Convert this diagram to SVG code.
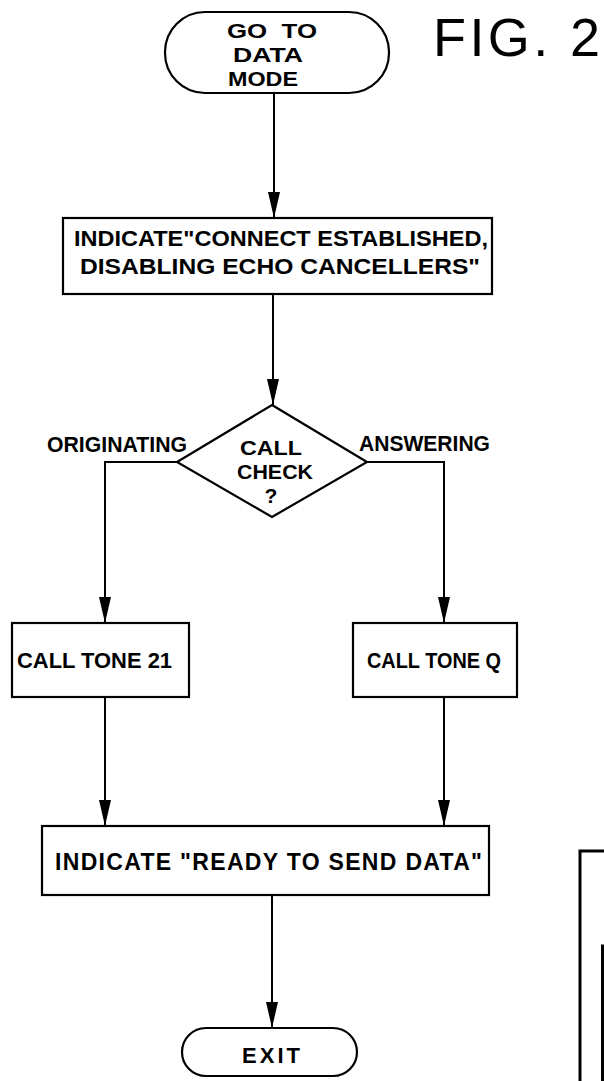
<svg xmlns="http://www.w3.org/2000/svg" width="604" height="1081" viewBox="0 0 604 1081">
<style>
.s{fill:none;stroke:#000;stroke-width:2.2}
.t{font-family:"Liberation Sans",Arial,sans-serif;font-weight:bold;fill:#000}
.f{font-family:"Liberation Sans",Arial,sans-serif;font-weight:normal;fill:#000}
.c{stroke:#000;stroke-width:2;fill:none}
.ah{fill:#000}
</style>
<rect width="604" height="1081" fill="#fff"/>
<g id="fig-label">
<text class="f" x="433" y="56" font-size="54" textLength="167" lengthAdjust="spacing">FIG. 2</text>
</g>
<g id="connectors">
<path class="c" d="M274,93 V218"/>
<path class="c" d="M273,294 V405"/>
<path class="c" d="M177,462 H105 V623"/>
<path class="c" d="M367,462 H444 V623"/>
<path class="c" d="M105,697 V826"/>
<path class="c" d="M444,697 V826"/>
<path class="c" d="M272,895 V1028"/>
<path class="ah" d="M268,192 L280,192 L274,218 Z"/>
<path class="ah" d="M267,379 L279,379 L273,405 Z"/>
<path class="ah" d="M99,597 L111,597 L105,623 Z"/>
<path class="ah" d="M438,597 L450,597 L444,623 Z"/>
<path class="ah" d="M99,800 L111,800 L105,826 Z"/>
<path class="ah" d="M438,800 L450,800 L444,826 Z"/>
<path class="ah" d="M266,1002 L278,1002 L272,1028 Z"/>
</g>
<g id="start">
<rect class="s" x="165" y="12" width="224" height="81" rx="40" ry="40"/>
<text class="t" x="227" y="38" font-size="21" textLength="90" lengthAdjust="spacingAndGlyphs" xml:space="preserve">GO  TO</text>
<text class="t" x="233" y="62" font-size="21" textLength="70" lengthAdjust="spacingAndGlyphs">DATA</text>
<text class="t" x="228" y="86" font-size="21" textLength="70" lengthAdjust="spacingAndGlyphs">MODE</text>
</g>
<g id="indicate-connect">
<rect class="s" x="63" y="218" width="429" height="76"/>
<text class="t" x="74" y="246" font-size="22.5" textLength="414" lengthAdjust="spacingAndGlyphs">INDICATE"CONNECT ESTABLISHED,</text>
<text class="t" x="80" y="274" font-size="22.5" textLength="400" lengthAdjust="spacingAndGlyphs">DISABLING  ECHO CANCELLERS"</text>
</g>
<g id="call-check">
<path class="s" d="M272,405 L367,462 L272,517 L177,462 Z" stroke-width="3"/>
<text class="t" x="240" y="455" font-size="21" textLength="62" lengthAdjust="spacingAndGlyphs">CALL</text>
<text class="t" x="237" y="479" font-size="21" textLength="76" lengthAdjust="spacingAndGlyphs">CHECK</text>
<text class="t" x="271" y="503" font-size="21" text-anchor="middle">?</text>
<text class="t" x="47" y="452" font-size="22" textLength="140" lengthAdjust="spacingAndGlyphs">ORIGINATING</text>
<text class="t" x="359" y="451" font-size="22" textLength="131" lengthAdjust="spacingAndGlyphs">ANSWERING</text>
</g>
<g id="call-tone-21">
<rect class="s" x="12" y="623" width="177" height="74"/>
<text class="t" x="17" y="668" font-size="22" textLength="155" lengthAdjust="spacingAndGlyphs">CALL TONE 21</text>
</g>
<g id="call-tone-q">
<rect class="s" x="353" y="623" width="164" height="74"/>
<text class="t" x="367" y="668" font-size="22" textLength="134" lengthAdjust="spacingAndGlyphs">CALL TONE Q</text>
</g>
<g id="indicate-ready">
<rect class="s" x="42" y="826" width="447" height="69"/>
<text class="t" x="55" y="870" font-size="23" textLength="427" lengthAdjust="spacing">INDICATE "READY  TO  SEND  DATA"</text>
</g>
<g id="exit">
<rect class="s" x="182" y="1028" width="175" height="48" rx="24" ry="24"/>
<text class="t" x="242" y="1063" font-size="22" textLength="58" lengthAdjust="spacing">EXIT</text>
</g>
<g id="partial-figure">
<path d="M604,851 H580 V1081" fill="none" stroke="#000" stroke-width="3"/>
<path d="M604,946 H602.5 V1081" fill="none" stroke="#000" stroke-width="3"/>
</g>
</svg>
